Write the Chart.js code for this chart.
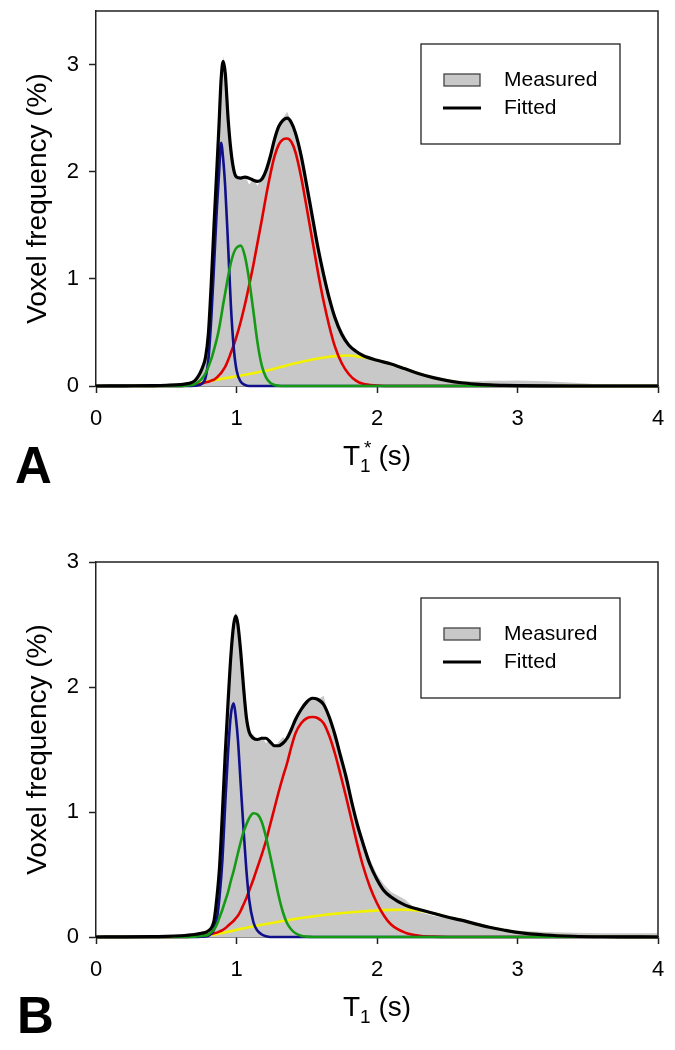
<!DOCTYPE html>
<html>
<head>
<meta charset="utf-8">
<script src="https://cdn.jsdelivr.net/npm/chart.js@4.4.1/dist/chart.umd.min.js"></script>
<style>
  body { margin: 0; background: #fff; width: 675px; height: 1050px; overflow: hidden; }
  canvas { display: block; }
</style>
</head>
<body>
<canvas id="chartA" width="675" height="525"></canvas>
<canvas id="chartB" width="675" height="525"></canvas>
<script>
// ---- data ----
const xTicks = [0, 1, 2, 3, 4];
const yTicksA = [0, 1, 2, 3];
const yTicksB = [0, 1, 2, 3];

// Panel A: T1* (s)
const tA = [0, 0.2, 0.4, 0.5, 0.6, 0.65, 0.7, 0.74, 0.76, 0.78,
  0.8, 0.82, 0.84, 0.86, 0.875, 0.89, 0.905, 0.92, 0.94, 0.96,
  0.98, 1.0, 1.03, 1.06, 1.09, 1.12, 1.15, 1.18, 1.21, 1.24,
  1.27, 1.3, 1.33, 1.36, 1.39, 1.42, 1.46, 1.5, 1.54, 1.58,
  1.62, 1.66, 1.7, 1.75, 1.8, 1.85, 1.9, 2.0, 2.1, 2.2,
  2.3, 2.4, 2.5, 2.6, 2.7, 2.8, 2.9, 3.0, 3.2, 3.4,
  3.6, 3.8, 4.0];
const measuredA = [0, 0.002, 0.005, 0.008, 0.015, 0.025, 0.05, 0.12, 0.19, 0.29,
  0.52, 0.98, 1.52, 2.05, 2.45, 2.9, 3.08, 2.9, 2.45, 2.18,
  2.0, 1.96, 1.93, 1.96, 1.88, 1.93, 1.87, 1.95, 2.0, 2.15,
  2.31, 2.44, 2.5, 2.56, 2.47, 2.38, 2.17, 1.9, 1.6, 1.32,
  1.07, 0.85, 0.68, 0.52, 0.4, 0.33, 0.28, 0.23, 0.19, 0.15,
  0.11, 0.08, 0.055, 0.045, 0.045, 0.05, 0.048, 0.052, 0.045, 0.03,
  0.015, 0.007, 0.004];
const fittedA = [0, 0.002, 0.004, 0.007, 0.013, 0.022, 0.045, 0.12, 0.18, 0.27,
  0.49, 0.95, 1.5, 2.02, 2.42, 2.85, 3.03, 2.92, 2.5, 2.2,
  2.02, 1.95, 1.94, 1.95, 1.94, 1.92, 1.91, 1.93, 2.01, 2.14,
  2.3, 2.42, 2.48, 2.5, 2.46, 2.36, 2.15, 1.87, 1.58, 1.29,
  1.04, 0.82, 0.64, 0.48, 0.38, 0.325, 0.285, 0.24, 0.205, 0.16,
  0.115, 0.078, 0.05, 0.03, 0.018, 0.01, 0.006, 0.003, 0.001, 0,
  0, 0, 0];
const blueA = [0, 0, 0, 0, 0, 0, 0.002, 0.01, 0.03, 0.08,
  0.25, 0.62, 1.12, 1.65, 1.97, 2.27, 2.12, 1.85, 1.32, 0.75,
  0.36, 0.15, 0.04, 0.01, 0, 0, 0, 0, 0, 0,
  0, 0, 0, 0, 0, 0, 0, 0, 0, 0,
  0, 0, 0, 0, 0, 0, 0, 0, 0, 0,
  0, 0, 0, 0, 0, 0, 0, 0, 0, 0,
  0, 0, 0];
const greenA = [0, 0, 0, 0, 0, 0.005, 0.015, 0.05, 0.08, 0.12,
  0.18, 0.25, 0.34, 0.44, 0.53, 0.64, 0.76, 0.87, 1.02, 1.15,
  1.24, 1.29, 1.31, 1.21, 0.99, 0.7, 0.4, 0.19, 0.08, 0.03,
  0.01, 0.003, 0, 0, 0, 0, 0, 0, 0, 0,
  0, 0, 0, 0, 0, 0, 0, 0, 0, 0,
  0, 0, 0, 0, 0, 0, 0, 0, 0, 0,
  0, 0, 0];
const redA = [0, 0, 0, 0, 0, 0.005, 0.01, 0.02, 0.025, 0.035,
  0.04, 0.05, 0.06, 0.08, 0.1, 0.12, 0.15, 0.18, 0.24, 0.31,
  0.38, 0.46, 0.6, 0.76, 0.94, 1.13, 1.34, 1.55, 1.77, 1.97,
  2.14, 2.25, 2.3, 2.31, 2.28, 2.18, 1.95, 1.66, 1.36, 1.06,
  0.79, 0.56, 0.37, 0.21, 0.11, 0.05, 0.02, 0.005, 0, 0,
  0, 0, 0, 0, 0, 0, 0, 0, 0, 0,
  0, 0, 0];
const yellowA = [0, 0, 0, 0.003, 0.01, 0.015, 0.02, 0.03, 0.035, 0.04,
  0.045, 0.05, 0.055, 0.06, 0.063, 0.066, 0.07, 0.073, 0.077, 0.082,
  0.087, 0.092, 0.098, 0.105, 0.112, 0.12, 0.127, 0.135, 0.143, 0.152,
  0.162, 0.172, 0.183, 0.193, 0.203, 0.212, 0.224, 0.236, 0.247, 0.257,
  0.266, 0.273, 0.279, 0.283, 0.284, 0.278, 0.268, 0.24, 0.205, 0.16,
  0.115, 0.078, 0.05, 0.03, 0.018, 0.01, 0.005, 0.002, 0, 0,
  0, 0, 0];

// Panel B: T1 (s)
const tB = [0, 0.2, 0.4, 0.5, 0.6, 0.7, 0.75, 0.8, 0.84, 0.86,
  0.88, 0.9, 0.92, 0.94, 0.96, 0.98, 0.995, 1.01, 1.03, 1.05,
  1.07, 1.09, 1.12, 1.15, 1.18, 1.21, 1.24, 1.27, 1.3, 1.33,
  1.36, 1.39, 1.42, 1.46, 1.5, 1.54, 1.58, 1.62, 1.66, 1.7,
  1.74, 1.78, 1.82, 1.86, 1.9, 1.95, 2.0, 2.05, 2.1, 2.2,
  2.3, 2.4, 2.5, 2.6, 2.7, 2.8, 2.9, 3.0, 3.2, 3.4,
  3.6, 3.8, 4.0];
const measuredB = [0, 0.001, 0.003, 0.005, 0.01, 0.02, 0.03, 0.06, 0.15, 0.33,
  0.6, 1.03, 1.5, 1.9, 2.27, 2.52, 2.6, 2.5, 2.3, 2.0,
  1.77, 1.62, 1.62, 1.57, 1.61, 1.55, 1.58, 1.52, 1.56, 1.6,
  1.57, 1.67, 1.76, 1.82, 1.87, 1.92, 1.9, 1.93, 1.76, 1.62,
  1.44, 1.27, 1.08, 0.9, 0.77, 0.62, 0.5, 0.42, 0.36, 0.3,
  0.2, 0.17, 0.15, 0.13, 0.1, 0.08, 0.062, 0.05, 0.04, 0.035,
  0.03, 0.03, 0.03];
const fittedB = [0, 0.001, 0.003, 0.005, 0.01, 0.02, 0.03, 0.05, 0.13, 0.31,
  0.57, 1.0, 1.47, 1.88, 2.25, 2.5, 2.57, 2.5, 2.28, 2.0,
  1.76, 1.64, 1.59, 1.58, 1.59, 1.59, 1.56, 1.53, 1.53, 1.55,
  1.59, 1.66, 1.74, 1.82, 1.88, 1.91, 1.9, 1.86, 1.76, 1.62,
  1.45, 1.28, 1.08, 0.9, 0.75, 0.58, 0.46, 0.37, 0.32, 0.255,
  0.22, 0.19, 0.16, 0.135, 0.105, 0.078, 0.056, 0.037, 0.016, 0.006,
  0.002, 0.001, 0];
const blueB = [0, 0, 0, 0, 0, 0, 0.002, 0.01, 0.06, 0.14,
  0.33, 0.62, 1.07, 1.48, 1.78, 1.87, 1.76, 1.58, 1.22, 0.86,
  0.54, 0.3, 0.12, 0.05, 0.02, 0.006, 0, 0, 0, 0,
  0, 0, 0, 0, 0, 0, 0, 0, 0, 0,
  0, 0, 0, 0, 0, 0, 0, 0, 0, 0,
  0, 0, 0, 0, 0, 0, 0, 0, 0, 0,
  0, 0, 0];
const greenB = [0, 0, 0, 0, 0, 0.003, 0.008, 0.02, 0.06, 0.1,
  0.16, 0.22, 0.29, 0.36, 0.45, 0.53, 0.6, 0.67, 0.76, 0.84,
  0.9, 0.95, 0.99, 0.98, 0.92, 0.8, 0.65, 0.49, 0.33, 0.2,
  0.11, 0.06, 0.03, 0.01, 0.003, 0, 0, 0, 0, 0,
  0, 0, 0, 0, 0, 0, 0, 0, 0, 0,
  0, 0, 0, 0, 0, 0, 0, 0, 0, 0,
  0, 0, 0];
const redB = [0, 0, 0, 0, 0, 0.005, 0.01, 0.02, 0.03, 0.035,
  0.045, 0.055, 0.07, 0.09, 0.11, 0.13, 0.15, 0.17, 0.21, 0.26,
  0.31, 0.37, 0.46, 0.56, 0.66, 0.77, 0.9, 1.03, 1.16, 1.28,
  1.39, 1.52, 1.63, 1.71, 1.75, 1.76, 1.75, 1.71, 1.61, 1.47,
  1.3, 1.12, 0.93, 0.74, 0.57, 0.4, 0.27, 0.17, 0.1, 0.035,
  0.01, 0.003, 0, 0, 0, 0, 0, 0, 0, 0,
  0, 0, 0];
const yellowB = [0, 0, 0, 0, 0.002, 0.005, 0.008, 0.014, 0.02, 0.024,
  0.028, 0.032, 0.037, 0.042, 0.047, 0.052, 0.056, 0.06, 0.065, 0.07,
  0.074, 0.078, 0.085, 0.092, 0.098, 0.104, 0.11, 0.116, 0.122, 0.128,
  0.134, 0.14, 0.145, 0.152, 0.158, 0.164, 0.17, 0.176, 0.181, 0.186,
  0.19, 0.194, 0.198, 0.202, 0.205, 0.209, 0.212, 0.215, 0.217, 0.218,
  0.21, 0.19, 0.16, 0.135, 0.105, 0.078, 0.056, 0.037, 0.016, 0.006,
  0.002, 0.001, 0];

const FONT = '"Liberation Sans", Arial, sans-serif';
const FRAME = '#222';
const GRAY = '#c8c8c8';

// frame top/right, inset legend, x title with sub/superscript, panel letter
const decor = {
  id: 'decor',
  afterDatasetsDraw(chart, args, o) {
    const ctx = chart.ctx, a = chart.chartArea;
    ctx.save();
    ctx.strokeStyle = FRAME;
    ctx.lineWidth = 1.5;
    ctx.beginPath();
    ctx.moveTo(a.left, a.top);
    ctx.lineTo(a.right, a.top);
    ctx.lineTo(a.right, a.bottom);
    ctx.stroke();

    // legend
    const lx = a.left + 325, ly = a.top + o.legendDy;
    ctx.lineWidth = 1.3;
    ctx.strokeRect(lx, ly, 199, 100);
    ctx.fillStyle = GRAY;
    ctx.fillRect(lx + 23, ly + 30, 36, 12);
    ctx.strokeStyle = '#444';
    ctx.strokeRect(lx + 23, ly + 30, 36, 12);
    ctx.strokeStyle = '#000';
    ctx.lineWidth = 3;
    ctx.beginPath();
    ctx.moveTo(lx + 22, ly + 64);
    ctx.lineTo(lx + 60, ly + 64);
    ctx.stroke();
    ctx.fillStyle = '#000';
    ctx.font = '21px ' + FONT;
    ctx.textBaseline = 'middle';
    ctx.textAlign = 'left';
    const ds = chart.data.datasets;
    ctx.fillText(ds[ds.length - 1].label, lx + 83, ly + 36);
    ctx.fillText(ds[0].label, lx + 83, ly + 64);

    // x-axis title: T1(*) (s)
    ctx.textBaseline = 'alphabetic';
    const big = '28px ' + FONT, small = '19px ' + FONT;
    ctx.font = big;
    const wT = ctx.measureText('T').width;
    const wRest = ctx.measureText(' (s)').width;
    ctx.font = small;
    const wSub = ctx.measureText('1').width;
    const wStar = o.star ? ctx.measureText('*').width + 3 : 0;
    const total = wT + Math.max(wSub, wStar) + wRest;
    let x = (a.left + a.right) / 2 - total / 2;
    const base = a.bottom + 79;
    ctx.font = big;
    ctx.fillText('T', x, base);
    x += wT;
    ctx.font = small;
    ctx.fillText('1', x, base + 7);
    if (o.star) ctx.fillText('*', x + 4, base - 11);
    x += Math.max(wSub, wStar);
    ctx.font = big;
    ctx.fillText(' (s)', x, base);

    // panel letter
    ctx.font = 'bold 51px ' + FONT;
    ctx.fillText(o.letter, o.letterX, a.bottom + o.letterDy);
    ctx.restore();
  }
};

function pts(t, v) {
  return t.map((x, i) => ({ x: x, y: v[i] }));
}

function curve(label, t, v, color, width) {
  return {
    label: label,
    data: pts(t, v),
    borderColor: color,
    borderWidth: width,
    pointRadius: 0,
    fill: false,
    cubicInterpolationMode: 'monotone',
    clip: false
  };
}

function makePanel(id, t, s, cfg) {
  new Chart(document.getElementById(id), {
    type: 'line',
    data: {
      datasets: [
        curve('Fitted', t, s.fitted, '#000', 3.2),
        curve('c4', t, s.green, '#159a15', 2.6),
        curve('c1', t, s.blue, '#10108a', 2.6),
        curve('c2', t, s.red, '#e00000', 2.6),
        curve('c3', t, s.yellow, '#f2f200', 2.6),
        {
          label: 'Measured',
          data: pts(t, s.measured),
          borderWidth: 0,
          backgroundColor: GRAY,
          fill: 'origin',
          pointRadius: 0,
          tension: 0
        }
      ]
    },
    options: {
      responsive: false,
      devicePixelRatio: 1,
      animation: false,
      layout: { padding: { top: cfg.padTop, right: 17, left: 0, bottom: 0 } },
      plugins: {
        legend: { display: false },
        tooltip: { enabled: false },
        decor: cfg.decor
      },
      scales: {
        x: {
          type: 'linear',
          min: xTicks[0],
          max: xTicks[xTicks.length - 1],
          afterBuildTicks: sc => { sc.ticks = xTicks.map(v => ({ value: v })); },
          afterFit: sc => { sc.height = cfg.xHeight; sc.paddingLeft = 0; sc.paddingRight = 0; },
          ticks: { color: '#000', font: { family: FONT, size: 22 }, padding: 13, maxRotation: 0 },
          grid: { drawOnChartArea: false, tickLength: 7, tickColor: FRAME, tickWidth: 1.5 },
          border: { display: true, color: FRAME, width: 1.5 }
        },
        y: {
          min: 0,
          max: cfg.yMax,
          afterBuildTicks: sc => { sc.ticks = cfg.yTicks.map(v => ({ value: v })); },
          afterFit: sc => { sc.width = 96; sc.paddingTop = 0; sc.paddingBottom = 0; },
          ticks: { color: '#000', font: { family: FONT, size: 22 }, padding: 10 },
          grid: { drawOnChartArea: false, tickLength: 7, tickColor: FRAME, tickWidth: 1.5 },
          border: { display: true, color: FRAME, width: 1.5 },
          title: {
            display: true,
            text: 'Voxel frequency (%)',
            color: '#000',
            font: { family: FONT, size: 28 },
            padding: { top: 21, bottom: 0 }
          }
        }
      }
    },
    plugins: [decor]
  });
}

makePanel('chartA', tA,
  { measured: measuredA, fitted: fittedA, blue: blueA, green: greenA, red: redA, yellow: yellowA },
  { yMax: 3.5, yTicks: yTicksA, padTop: 11, xHeight: 139,
    decor: { legendDy: 33, star: true, letter: 'A', letterX: 15, letterDy: 97 } });

makePanel('chartB', tB,
  { measured: measuredB, fitted: fittedB, blue: blueB, green: greenB, red: redB, yellow: yellowB },
  { yMax: 3, yTicks: yTicksB, padTop: 37, xHeight: 113,
    decor: { legendDy: 36, star: false, letter: 'B', letterX: 17, letterDy: 96 } });
</script>
</body>
</html>
